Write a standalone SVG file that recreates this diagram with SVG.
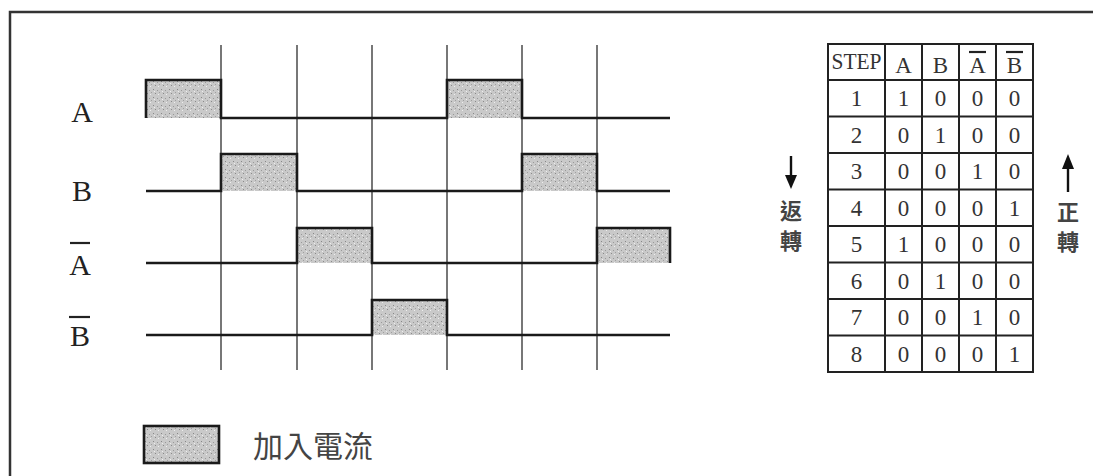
<svg xmlns="http://www.w3.org/2000/svg" width="1093" height="476" viewBox="0 0 1093 476">
<style>
.frame{fill:none;stroke:#333;stroke-width:2.5}
.grid{stroke:#555;stroke-width:1.6;fill:none}
.wave{fill:none;stroke:#1a1a1a;stroke-width:2.6;stroke-linejoin:miter}
.pulse{fill:url(#noise);stroke:none}
.lbl{font-family:"Liberation Serif","DejaVu Serif",serif;font-size:30px;fill:#222;text-anchor:middle}
.ovl{stroke:#222;stroke-width:2.2}
.tb{fill:none;stroke:#222;stroke-width:2}
.tt{font-family:"Liberation Serif","DejaVu Serif",serif;font-size:23px;fill:#333;text-anchor:middle}
.cjk{font-family:"Noto Sans CJK TC","Noto Sans CJK SC",sans-serif;fill:#444}
.side{font-family:"Noto Sans CJK TC","Noto Sans CJK SC",sans-serif;fill:#444;font-size:22px;font-weight:bold;text-anchor:middle}
.arr{stroke:#111;stroke-width:2.4;fill:none}
.head{fill:#111;stroke:none}
</style>
<defs>
<pattern id="noise" width="8" height="8" patternUnits="userSpaceOnUse">
<rect width="8" height="8" fill="#c9c9c9"/>
<rect x="1" y="1" width="1" height="1" fill="#888"/>
<rect x="5" y="2" width="1" height="1" fill="#999"/>
<rect x="3" y="5" width="1" height="1" fill="#8a8a8a"/>
<rect x="6" y="6" width="1" height="1" fill="#eee"/>
<rect x="2" y="3" width="1" height="1" fill="#eee"/>
<rect x="7" y="4" width="1" height="1" fill="#a0a0a0"/>
</pattern>
</defs>
<rect width="1093" height="476" fill="#fff"/>
<path class="frame" d="M1093,12 H10 V476"/>

<g id="grid">
<line class="grid" x1="221" y1="45" x2="221" y2="370"/>
<line class="grid" x1="297" y1="45" x2="297" y2="370"/>
<line class="grid" x1="372" y1="45" x2="372" y2="370"/>
<line class="grid" x1="447" y1="45" x2="447" y2="370"/>
<line class="grid" x1="522" y1="45" x2="522" y2="370"/>
<line class="grid" x1="597" y1="45" x2="597" y2="370"/>
</g>

<g id="wave-A">
<rect class="pulse" x="146" y="80" width="75" height="38"/>
<rect class="pulse" x="447" y="80" width="75" height="38"/>
<path class="wave" d="M146,118 V80 H221 V118 H447 V80 H522 V118 H670"/>
<text class="lbl" x="82" y="122">A</text>
</g>
<g id="wave-B">
<rect class="pulse" x="221" y="154" width="76" height="37"/>
<rect class="pulse" x="522" y="154" width="75" height="37"/>
<path class="wave" d="M146,191 H221 V154 H297 V191 H522 V154 H597 V191 H670"/>
<text class="lbl" x="82" y="201">B</text>
</g>
<g id="wave-Abar">
<rect class="pulse" x="297" y="228" width="75" height="35"/>
<rect class="pulse" x="597" y="228" width="73" height="35"/>
<path class="wave" d="M146,263 H297 V228 H372 V263 H597 V228 H670 V263"/>
<text class="lbl" x="80" y="275">A</text>
<line class="ovl" x1="70" y1="243" x2="90" y2="243"/>
</g>
<g id="wave-Bbar">
<rect class="pulse" x="372" y="300" width="75" height="35"/>
<path class="wave" d="M146,335 H372 V300 H447 V335 H670"/>
<text class="lbl" x="80" y="346">B</text>
<line class="ovl" x1="69" y1="317" x2="90" y2="317"/>
</g>

<g id="legend">
<rect x="144" y="426" width="75" height="37" fill="url(#noise)" stroke="#1a1a1a" stroke-width="2.6"/>
<text class="cjk" x="253" y="457" font-size="30">加入電流</text>
</g>

<g id="table">
<rect class="tb" x="828" y="44" width="205" height="328"/>
<path class="tb" d="M885,44 V372 M922,44 V372 M959,44 V372 M996,44 V372 M828,80 H1033 M828,116.5 H1033 M828,153 H1033 M828,189.5 H1033 M828,226 H1033 M828,262.5 H1033 M828,299 H1033 M828,335.5 H1033"/>
<text class="tt" x="856.5" y="69" font-size="15" textLength="50" lengthAdjust="spacingAndGlyphs">STEP</text>
<text class="tt" x="903.5" y="73">A</text>
<text class="tt" x="940.5" y="73">B</text>
<text class="tt" x="977.5" y="73">A</text>
<text class="tt" x="1014.5" y="73">B</text>
<line class="ovl" x1="969" y1="52" x2="986" y2="52" stroke-width="1.8"/>
<line class="ovl" x1="1006" y1="52" x2="1023" y2="52" stroke-width="1.8"/>
<g class="tt">
<text x="856.5" y="106">1</text><text x="903.5" y="106">1</text><text x="940.5" y="106">0</text><text x="977.5" y="106">0</text><text x="1014.5" y="106">0</text>
<text x="856.5" y="142.5">2</text><text x="903.5" y="142.5">0</text><text x="940.5" y="142.5">1</text><text x="977.5" y="142.5">0</text><text x="1014.5" y="142.5">0</text>
<text x="856.5" y="179">3</text><text x="903.5" y="179">0</text><text x="940.5" y="179">0</text><text x="977.5" y="179">1</text><text x="1014.5" y="179">0</text>
<text x="856.5" y="215.5">4</text><text x="903.5" y="215.5">0</text><text x="940.5" y="215.5">0</text><text x="977.5" y="215.5">0</text><text x="1014.5" y="215.5">1</text>
<text x="856.5" y="252">5</text><text x="903.5" y="252">1</text><text x="940.5" y="252">0</text><text x="977.5" y="252">0</text><text x="1014.5" y="252">0</text>
<text x="856.5" y="288.5">6</text><text x="903.5" y="288.5">0</text><text x="940.5" y="288.5">1</text><text x="977.5" y="288.5">0</text><text x="1014.5" y="288.5">0</text>
<text x="856.5" y="325">7</text><text x="903.5" y="325">0</text><text x="940.5" y="325">0</text><text x="977.5" y="325">1</text><text x="1014.5" y="325">0</text>
<text x="856.5" y="361.5">8</text><text x="903.5" y="361.5">0</text><text x="940.5" y="361.5">0</text><text x="977.5" y="361.5">0</text><text x="1014.5" y="361.5">1</text>
</g>
</g>

<g id="connectors">
<line class="arr" x1="791" y1="156" x2="791" y2="177"/>
<path class="head" d="M785,175 L797,175 L791,189 Z"/>
<line class="arr" x1="1068" y1="192" x2="1068" y2="166"/>
<path class="head" d="M1062,169 L1074,169 L1068,154 Z"/>
</g>
<g id="label-reverse">
<text class="side" x="791" y="219">返</text>
<text class="side" x="791" y="249">轉</text>
</g>
<g id="label-forward">
<text class="side" x="1068" y="220">正</text>
<text class="side" x="1068" y="250">轉</text>
</g>
</svg>
